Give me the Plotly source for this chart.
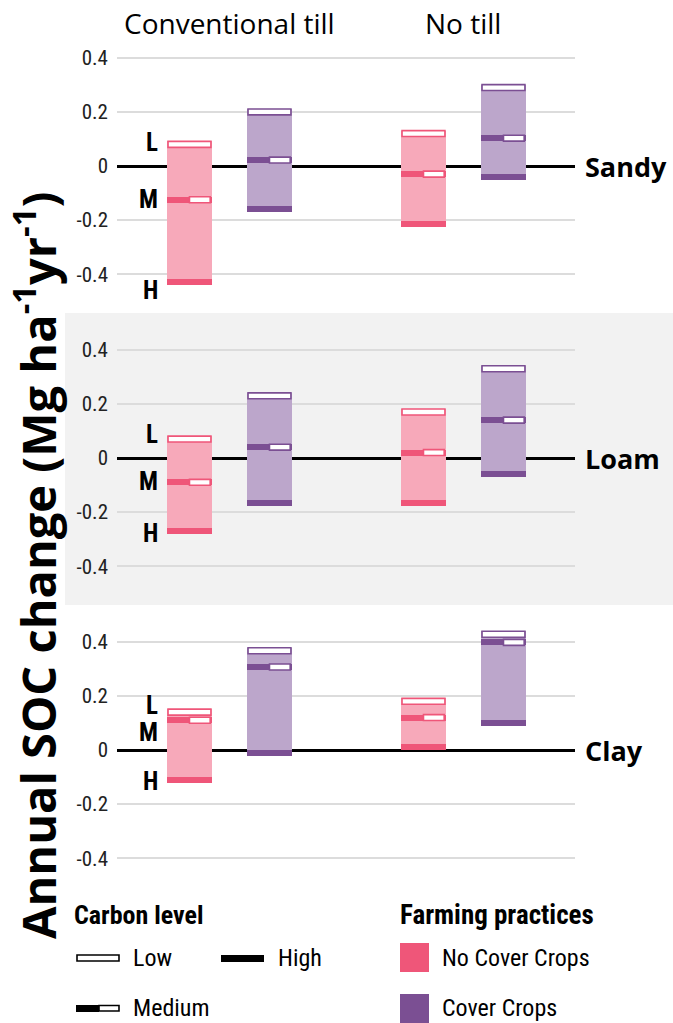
import plotly.graph_objects as go
from plotly.subplots import make_subplots

# ---------------- data ----------------
soils = ["Sandy", "Loam", "Clay"]
tillages = ["Conventional till", "No till"]
practices = ["No Cover Crops", "Cover Crops"]
carbon_levels = ["Low", "Medium", "High"]
level_letters = ["L", "M", "H"]

# Annual SOC change (Mg ha-1 yr-1); rows = soils, columns = [Conventional till, No till]
ncc_low = [[0.08, 0.12], [0.07, 0.17], [0.14, 0.18]]
ncc_medium = [[-0.125, -0.03], [-0.09, 0.02], [0.11, 0.12]]
ncc_high = [[-0.43, -0.215], [-0.27, -0.165], [-0.11, 0.01]]
cc_low = [[0.20, 0.29], [0.23, 0.33], [0.367, 0.428]]
cc_medium = [[0.022, 0.103], [0.04, 0.14], [0.307, 0.398]]
cc_high = [[-0.16, -0.04], [-0.167, -0.06], [-0.011, 0.099]]

tick_vals = [-0.4, -0.2, 0, 0.2, 0.4]
tick_text = ["-0.4", "-0.2", "0", "0.2", "0.4"]

# ---------------- style / layout ----------------
W, H = 673, 1023
PL, PR, PT, PB = 117, 575, 20, 896   # plot area in pixels
light = ["#F7A9BA", "#BCA6CB"]
dark = ["#EF5679", "#7B4F93"]
till_pos = [0.0, 2.925]
bar_w = 0.555
mark_h = 0.022
px_per_unit = 80.0
x_range = [-0.906, 4.819]
y_range = [-0.54, 0.54]

NARROW = "'Liberation Sans Narrow', 'Roboto Condensed', 'DejaVu Sans Condensed', Roboto, sans-serif"
SANS = "'Open Sans', sans-serif"


def fx(p):
    return (p - PL) / (PR - PL)


def fy(p):
    return (PB - p) / (PB - PT)


fig = make_subplots(rows=3, cols=1, shared_xaxes=True, vertical_spacing=0)

series = [(ncc_low, ncc_medium, ncc_high), (cc_low, cc_medium, cc_high)]

for si, soil in enumerate(soils):
    row = si + 1
    for pi, (lo, me, hi) in enumerate(series):
        xs = [till_pos[ti] + pi for ti in range(len(tillages))]
        lows = lo[si]
        meds = me[si]
        highs = hi[si]
        # range bar
        fig.add_trace(go.Bar(
            x=xs, base=[h - mark_h / 2 for h in highs],
            y=[(l + mark_h / 2) - (h - mark_h / 2) for l, h in zip(lows, highs)],
            width=bar_w, marker=dict(color=light[pi], line=dict(width=0)),
            showlegend=False, hoverinfo="skip"), row=row, col=1)
        # high marker
        fig.add_trace(go.Bar(
            x=xs, base=[h - mark_h / 2 for h in highs], y=[mark_h] * len(xs),
            width=bar_w, marker=dict(color=dark[pi], line=dict(width=0)),
            showlegend=False, hoverinfo="skip"), row=row, col=1)
        # medium marker: dark full, white right half
        fig.add_trace(go.Bar(
            x=xs, base=[m - mark_h / 2 for m in meds], y=[mark_h] * len(xs),
            width=bar_w, marker=dict(color=dark[pi], line=dict(width=0)),
            showlegend=False, hoverinfo="skip"), row=row, col=1)
        fig.add_trace(go.Bar(
            x=xs, base=[m - mark_h / 2 for m in meds], y=[mark_h] * len(xs),
            width=bar_w / 2 - 1.5 / px_per_unit, offset=0,
            marker=dict(color="white", line=dict(width=1.6, color=dark[pi])),
            showlegend=False, hoverinfo="skip"), row=row, col=1)
        # low marker
        fig.add_trace(go.Bar(
            x=xs, base=[l - mark_h / 2 for l in lows], y=[mark_h] * len(xs),
            width=bar_w - 1.5 / px_per_unit,
            marker=dict(color="white", line=dict(width=1.6, color=dark[pi])),
            showlegend=False, hoverinfo="skip"), row=row, col=1)

    yname = "y" if row == 1 else f"y{row}"
    # soil label
    fig.add_annotation(x=fx(583), xref="paper", y=0, yref=yname, text=f"<b>{soil}</b>",
                       showarrow=False, xanchor="left", yanchor="middle",
                       font=dict(family=SANS, size=27, color="black"))
    # L / M / H labels next to first bar
    shifts = [[2, 0, -8], [5, 1, -2], [7, -12, -2]][si]
    vals = [ncc_low[si][0], ncc_medium[si][0], ncc_high[si][0]]
    for letter, v, s in zip(level_letters, vals, shifts):
        fig.add_annotation(x=till_pos[0], xref="x" if row == 1 else f"x{row}", y=v, yref=yname,
                           text=f"<b>{letter}</b>", showarrow=False, xanchor="right",
                           yanchor="middle", xshift=-(bar_w / 2 * px_per_unit) - 7, yshift=s,
                           font=dict(family=NARROW, size=25, color="black"))

for r in range(1, 4):
    fig.update_yaxes(range=y_range, tickvals=tick_vals, ticktext=tick_text,
                     showgrid=True, gridcolor="#DCDCDC", gridwidth=1.5,
                     zeroline=True, zerolinecolor="black", zerolinewidth=3,
                     showline=False, ticks="", ticklabelstandoff=8,
                     tickfont=dict(family=NARROW, size=21, color="#222222"),
                     fixedrange=True, row=r, col=1)
    fig.update_xaxes(range=x_range, visible=False, showgrid=False, zeroline=False,
                     fixedrange=True, row=r, col=1)

# gray band behind middle panel
fig.add_shape(type="rect", xref="paper", yref="paper",
              x0=fx(65), x1=fx(673), y0=fy(605), y1=fy(313),
              fillcolor="#F2F2F2", line=dict(width=0), layer="below")

# column headers
for ti, t in enumerate(tillages):
    fig.add_annotation(x=till_pos[ti] + 0.5, xref="x", y=fy(23), yref="paper", text=t,
                       showarrow=False, xanchor="center", yanchor="middle",
                       font=dict(family=SANS, size=28, color="black"))

# y axis title
fig.add_annotation(x=fx(35), xref="paper", y=fy(566), yref="paper",
                   text="<b>Annual SOC change (Mg ha<sup>-1</sup>yr<sup>-1</sup>)</b>",
                   textangle=-90, showarrow=False, xanchor="center", yanchor="middle",
                   font=dict(family=SANS, size=47, color="black"))

# ---------------- custom legend ----------------
fig.add_annotation(x=fx(72), xref="paper", y=fy(915), yref="paper", text="<b>Carbon level</b>",
                   showarrow=False, xanchor="left", yanchor="middle",
                   font=dict(family=NARROW, size=26, color="black"))
fig.add_annotation(x=fx(398), xref="paper", y=fy(915), yref="paper", text="<b>Farming practices</b>",
                   showarrow=False, xanchor="left", yanchor="middle",
                   font=dict(family=NARROW, size=27, color="black"))

# Low
fig.add_shape(type="rect", xref="paper", yref="paper", x0=fx(77), x1=fx(119), y0=fy(961), y1=fy(955),
              fillcolor="white", line=dict(color="black", width=1.6))
# High
fig.add_shape(type="rect", xref="paper", yref="paper", x0=fx(221), x1=fx(264), y0=fy(962), y1=fy(955),
              fillcolor="black", line=dict(width=0))
# Medium
fig.add_shape(type="rect", xref="paper", yref="paper", x0=fx(76), x1=fx(99), y0=fy(1012), y1=fy(1005),
              fillcolor="black", line=dict(width=0))
fig.add_shape(type="rect", xref="paper", yref="paper", x0=fx(99), x1=fx(119), y0=fy(1011), y1=fy(1005.5),
              fillcolor="white", line=dict(color="black", width=1.6))
legend_text = [("Low", 131, 958), ("High", 276, 958), ("Medium", 131, 1008),
               (practices[0], 440, 958), (practices[1], 440, 1008)]
for txt, xp, yp in legend_text:
    fig.add_annotation(x=fx(xp), xref="paper", y=fy(yp), yref="paper", text=txt,
                       showarrow=False, xanchor="left", yanchor="middle",
                       font=dict(family=NARROW, size=24, color="black"))
fig.add_shape(type="rect", xref="paper", yref="paper", x0=fx(400), x1=fx(429), y0=fy(972), y1=fy(943),
              fillcolor=dark[0], line=dict(width=0))
fig.add_shape(type="rect", xref="paper", yref="paper", x0=fx(400), x1=fx(429), y0=fy(1023), y1=fy(994),
              fillcolor=dark[1], line=dict(width=0))

fig.update_layout(
    width=W, height=H, barmode="overlay",
    margin=dict(l=PL, r=W - PR, t=PT, b=H - PB, autoexpand=False),
    paper_bgcolor="white", plot_bgcolor="rgba(0,0,0,0)",
    showlegend=False, bargap=0, hovermode=False,
)

fig.write_html("out.html", config={"displayModeBar": False, "staticPlot": True},
               post_script="document.body.style.margin='0px';document.body.style.overflow='hidden';")
